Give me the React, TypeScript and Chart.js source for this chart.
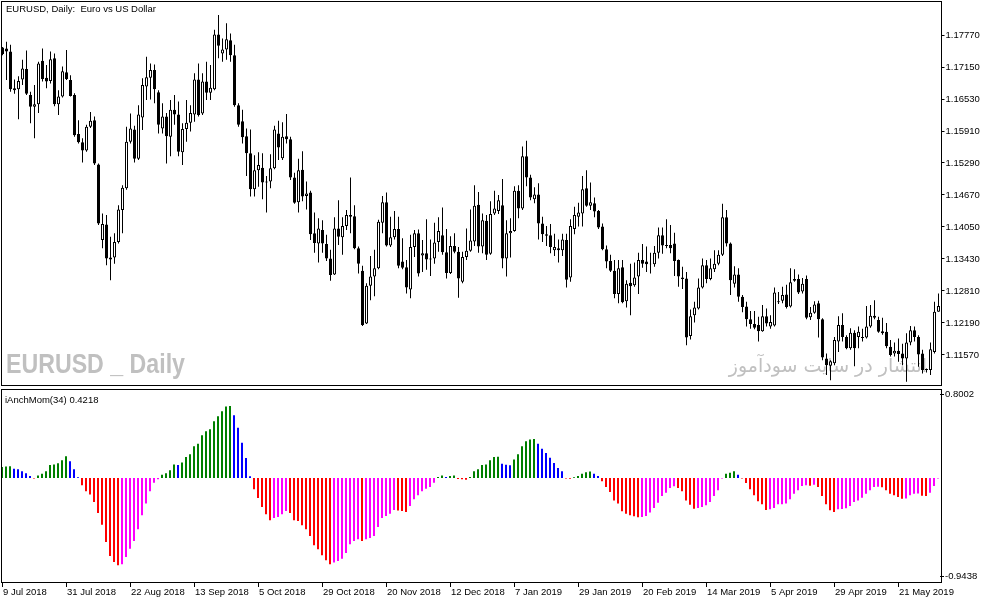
import React, { useEffect, useRef } from 'react';
import { Chart, registerables } from 'chart.js';

Chart.register(...registerables);

// ---------- data ----------
const opens = [
  1.1753,1.1751,1.1745,1.1674,1.1672,1.1691,1.1711,1.1661,1.1638,1.1643,
  1.1727,1.1694,1.1688,1.1732,1.1643,1.1658,1.1705,1.1690,1.1661,1.1585,
  1.1569,1.1553,1.1599,1.1612,1.1526,1.1380,1.1410,1.1346,1.1346,1.1376,
  1.1438,1.1480,1.1570,1.1594,1.1537,1.1617,1.1677,1.1694,1.1709,1.1666,
  1.1596,1.1619,1.1580,1.1632,1.1623,1.1550,1.1595,1.1607,1.1623,1.1691,
  1.1625,1.1687,1.1665,1.1672,1.1778,1.1741,1.1749,1.1767,1.1738,1.1641,
  1.1610,1.1581,1.1548,1.1478,1.1515,1.1520,1.1491,1.1493,1.1519,1.1586,
  1.1538,1.1581,1.1575,1.1501,1.1453,1.1516,1.1465,1.1472,1.1393,1.1373,
  1.1399,1.1372,1.1344,1.1313,1.1402,1.1385,1.1407,1.1428,1.1426,1.1364,
  1.1320,1.1218,1.1291,1.1309,1.1325,1.1413,1.1453,1.1369,1.1385,1.1401,
  1.1338,1.1327,1.1284,1.1366,1.1393,1.1350,1.1354,1.1342,1.1344,1.1376,
  1.1389,1.1356,1.1316,1.1368,1.1357,1.1299,1.1347,1.1359,1.1377,1.1448,
  1.1367,1.1417,1.1353,1.1431,1.1436,1.1447,1.1344,1.1393,1.1397,1.1475,
  1.1441,1.1542,1.1501,1.1459,1.1468,1.1412,1.1391,1.1389,1.1360,1.1364,
  1.1360,1.1380,1.1307,1.1401,1.1425,1.1431,1.1480,1.1446,1.1451,1.1436,
  1.1406,1.1362,1.1339,1.1320,1.1275,1.1327,1.1261,1.1297,1.1292,1.1309,
  1.1341,1.1338,1.1333,1.1333,1.1355,1.1389,1.1368,1.1370,1.1373,1.1341,
  1.1307,1.1305,1.1194,1.1234,1.1247,1.1288,1.1331,1.1304,1.1323,1.1334,
  1.1351,1.1424,1.1373,1.1295,1.1313,1.1270,1.1251,1.1226,1.1217,1.1215,
  1.1203,1.1232,1.1212,1.1214,1.1261,1.1262,1.1274,1.1251,1.1304,1.1304,
  1.1280,1.1304,1.1230,1.1239,1.1257,1.1226,1.1150,1.1136,1.1141,1.1183,
  1.1215,1.1192,1.1170,1.1200,1.1192,1.1192,1.1191,1.1212,1.1233,1.1225,
  1.1203,1.1202,1.1173,1.1160,1.1165,1.1160,1.1150,1.1181,1.1205,1.1192,
  1.1160,1.1128,1.1128,1.1163,1.1241,
];

const highs = [
  1.1754,1.1764,1.1758,1.1691,1.1697,1.1729,1.1747,1.1667,1.1680,1.1725,
  1.1751,1.1719,1.1745,1.1741,1.1670,1.1716,1.1748,1.1699,1.1664,1.1612,
  1.1577,1.1603,1.1628,1.1619,1.1528,1.1431,1.1428,1.1386,1.1393,1.1447,
  1.1486,1.1599,1.1625,1.1601,1.1641,1.1693,1.1735,1.1722,1.1720,1.1670,
  1.1645,1.1626,1.1651,1.1661,1.1648,1.1606,1.1651,1.1641,1.1703,1.1722,
  1.1703,1.1725,1.1719,1.1787,1.1816,1.1770,1.1800,1.1780,1.1758,1.1645,
  1.1632,1.1596,1.1594,1.1544,1.1550,1.1548,1.1504,1.1546,1.1601,1.1611,
  1.1608,1.1624,1.1580,1.1510,1.1537,1.1552,1.1493,1.1475,1.1433,1.1422,
  1.1418,1.1390,1.1361,1.1424,1.1457,1.1424,1.1438,1.1501,1.1447,1.1367,
  1.1330,1.1296,1.1349,1.1361,1.1419,1.1465,1.1472,1.1425,1.1436,1.1425,
  1.1383,1.1341,1.1390,1.1399,1.1400,1.1380,1.1420,1.1381,1.1413,1.1424,
  1.1443,1.1401,1.1387,1.1393,1.1366,1.1357,1.1402,1.1439,1.1486,1.1473,
  1.1431,1.1428,1.1455,1.1475,1.1467,1.1498,1.1418,1.1422,1.1484,1.1486,
  1.1561,1.1572,1.1506,1.1482,1.1490,1.1425,1.1407,1.1411,1.1392,1.1381,
  1.1392,1.1392,1.1420,1.1444,1.1452,1.1504,1.1515,1.1491,1.1462,1.1438,
  1.1412,1.1369,1.1351,1.1341,1.1341,1.1341,1.1302,1.1334,1.1336,1.1355,
  1.1372,1.1367,1.1355,1.1368,1.1404,1.1404,1.1420,1.1409,1.1394,1.1342,
  1.1328,1.1318,1.1245,1.1260,1.1305,1.1344,1.1341,1.1344,1.1360,1.1360,
  1.1450,1.1438,1.1375,1.1329,1.1325,1.1273,1.1260,1.1242,1.1242,1.1231,
  1.1254,1.1247,1.1234,1.1288,1.1279,1.1289,1.1293,1.1325,1.1323,1.1313,
  1.1306,1.1311,1.1250,1.1261,1.1262,1.1228,1.1160,1.1147,1.1192,1.1232,
  1.1238,1.1195,1.1209,1.1205,1.1212,1.1208,1.1252,1.1254,1.1263,1.1231,
  1.1229,1.1219,1.1186,1.1181,1.1189,1.1179,1.1199,1.1213,1.1212,1.1195,
  1.1167,1.1131,1.1181,1.1260,1.1276,
];

const lows = [
  1.1738,1.1690,1.1667,1.1663,1.1614,1.1680,1.1661,1.1606,1.1577,1.1626,
  1.1687,1.1674,1.1683,1.1639,1.1622,1.1656,1.1690,1.1658,1.1580,1.1567,
  1.1530,1.1551,1.1597,1.1525,1.1409,1.1364,1.1331,1.1302,1.1334,1.1373,
  1.1393,1.1477,1.1567,1.1530,1.1535,1.1593,1.1651,1.1652,1.1645,1.1586,
  1.1586,1.1528,1.1542,1.1603,1.1542,1.1525,1.1570,1.1590,1.1609,1.1619,
  1.1622,1.1651,1.1651,1.1670,1.1732,1.1725,1.1729,1.1725,1.1638,1.1599,
  1.1567,1.1504,1.1464,1.1464,1.1483,1.1459,1.1433,1.1480,1.1517,1.1535,
  1.1535,1.1567,1.1496,1.1450,1.1433,1.1455,1.1439,1.1380,1.1355,1.1336,
  1.1355,1.1339,1.1301,1.1312,1.1370,1.1351,1.1399,1.1393,1.1362,1.1315,
  1.1213,1.1217,1.1263,1.1271,1.1323,1.1393,1.1367,1.1366,1.1381,1.1325,
  1.1323,1.1276,1.1267,1.1347,1.1309,1.1318,1.1322,1.1310,1.1334,1.1357,
  1.1351,1.1305,1.1314,1.1354,1.1268,1.1296,1.1341,1.1357,1.1368,1.1355,
  1.1354,1.1341,1.1351,1.1428,1.1430,1.1325,1.1309,1.1346,1.1396,1.1422,
  1.1438,1.1484,1.1457,1.1451,1.1381,1.1376,1.1368,1.1354,1.1349,1.1336,
  1.1349,1.1288,1.1299,1.1391,1.1406,1.1406,1.1444,1.1438,1.1424,1.1401,
  1.1360,1.1325,1.1318,1.1267,1.1257,1.1257,1.1249,1.1234,1.1289,1.1275,
  1.1326,1.1318,1.1315,1.1328,1.1344,1.1353,1.1364,1.1354,1.1310,1.1289,
  1.1285,1.1176,1.1187,1.1220,1.1245,1.1286,1.1296,1.1302,1.1318,1.1331,
  1.1349,1.1367,1.1273,1.1288,1.1260,1.1240,1.1212,1.1208,1.1207,1.1183,
  1.1202,1.1212,1.1208,1.1212,1.1256,1.1257,1.1247,1.1249,1.1299,1.1275,
  1.1276,1.1226,1.1225,1.1237,1.1191,1.1147,1.1118,1.1108,1.1137,1.1163,
  1.1183,1.1168,1.1167,1.1135,1.1170,1.1183,1.1189,1.1210,1.1226,1.1200,
  1.1196,1.1170,1.1154,1.1154,1.1144,1.1137,1.1105,1.1176,1.1183,1.1134,
  1.1121,1.1123,1.1118,1.1160,1.1241,
];

const closes = [
  1.1740,1.1745,1.1672,1.1670,1.1688,1.1712,1.1663,1.1638,1.1643,1.1722,
  1.1692,1.1687,1.1730,1.1643,1.1658,1.1707,1.1692,1.1659,1.1583,1.1569,
  1.1553,1.1599,1.1611,1.1528,1.1412,1.1411,1.1344,1.1342,1.1376,1.1439,
  1.1481,1.1570,1.1596,1.1537,1.1623,1.1680,1.1695,1.1709,1.1672,1.1603,
  1.1619,1.1581,1.1632,1.1623,1.1551,1.1595,1.1607,1.1626,1.1691,1.1622,
  1.1687,1.1665,1.1675,1.1778,1.1756,1.1749,1.1769,1.1738,1.1641,1.1603,
  1.1579,1.1548,1.1478,1.1515,1.1525,1.1491,1.1493,1.1519,1.1594,1.1559,
  1.1580,1.1575,1.1501,1.1452,1.1515,1.1464,1.1470,1.1391,1.1374,1.1402,
  1.1373,1.1344,1.1312,1.1402,1.1386,1.1407,1.1428,1.1425,1.1364,1.1334,
  1.1215,1.1291,1.1309,1.1325,1.1415,1.1453,1.1369,1.1385,1.1401,1.1330,
  1.1326,1.1288,1.1366,1.1393,1.1315,1.1354,1.1342,1.1344,1.1375,1.1397,
  1.1356,1.1316,1.1368,1.1357,1.1305,1.1347,1.1359,1.1379,1.1446,1.1367,
  1.1418,1.1351,1.1430,1.1441,1.1457,1.1344,1.1393,1.1397,1.1475,1.1441,
  1.1542,1.1501,1.1462,1.1468,1.1412,1.1391,1.1388,1.1366,1.1366,1.1360,
  1.1381,1.1303,1.1407,1.1428,1.1433,1.1478,1.1446,1.1453,1.1435,1.1404,
  1.1362,1.1338,1.1320,1.1275,1.1325,1.1259,1.1295,1.1290,1.1307,1.1341,
  1.1334,1.1333,1.1334,1.1355,1.1389,1.1369,1.1370,1.1364,1.1339,1.1309,
  1.1304,1.1191,1.1232,1.1249,1.1288,1.1331,1.1304,1.1325,1.1334,1.1351,
  1.1424,1.1373,1.1302,1.1313,1.1270,1.1250,1.1226,1.1217,1.1210,1.1203,
  1.1232,1.1218,1.1221,1.1278,1.1259,1.1273,1.1250,1.1298,1.1301,1.1278,
  1.1295,1.1229,1.1239,1.1255,1.1226,1.1152,1.1137,1.1145,1.1186,1.1215,
  1.1192,1.1170,1.1200,1.1170,1.1202,1.1190,1.1212,1.1233,1.1229,1.1202,
  1.1199,1.1174,1.1157,1.1165,1.1159,1.1150,1.1181,1.1205,1.1192,1.1158,
  1.1128,1.1130,1.1168,1.1241,1.1252,
];

const momentum = [
  0.105,0.110,0.112,0.089,0.083,0.064,0.045,0.019,-0.006,0.025,
  0.041,0.064,0.124,0.129,0.140,0.169,0.207,0.159,0.083,0.006,
  -0.070,-0.127,-0.159,-0.229,-0.335,-0.446,-0.612,-0.746,-0.803,-0.835,
  -0.825,-0.755,-0.676,-0.602,-0.491,-0.357,-0.245,-0.127,-0.045,-0.013,
  0.032,0.045,0.073,0.129,0.125,0.147,0.201,0.226,0.303,0.328,
  0.408,0.446,0.465,0.542,0.590,0.637,0.683,0.688,0.599,0.481,
  0.338,0.191,0.016,-0.108,-0.191,-0.277,-0.347,-0.405,-0.382,-0.373,
  -0.347,-0.315,-0.335,-0.405,-0.411,-0.453,-0.491,-0.554,-0.644,-0.682,
  -0.739,-0.787,-0.825,-0.809,-0.793,-0.771,-0.717,-0.634,-0.602,-0.586,
  -0.602,-0.586,-0.574,-0.554,-0.468,-0.382,-0.363,-0.341,-0.305,-0.310,
  -0.315,-0.325,-0.268,-0.204,-0.166,-0.127,-0.102,-0.086,-0.045,0.010,
  0.025,0.010,0.019,0.025,-0.010,-0.011,-0.016,0.010,0.064,0.083,
  0.125,0.130,0.169,0.200,0.203,0.137,0.127,0.121,0.178,0.226,
  0.303,0.351,0.369,0.372,0.328,0.280,0.239,0.194,0.143,0.096,
  0.064,-0.006,-0.007,0.006,0.019,0.041,0.056,0.062,0.041,0.019,
  -0.032,-0.086,-0.134,-0.214,-0.245,-0.319,-0.341,-0.357,-0.365,-0.375,
  -0.373,-0.363,-0.331,-0.287,-0.236,-0.172,-0.140,-0.096,-0.080,-0.096,
  -0.127,-0.214,-0.255,-0.293,-0.287,-0.277,-0.261,-0.229,-0.172,-0.118,
  -0.006,0.041,0.051,0.064,0.032,-0.006,-0.048,-0.108,-0.166,-0.223,
  -0.252,-0.305,-0.300,-0.287,-0.252,-0.250,-0.245,-0.204,-0.150,-0.118,
  -0.076,-0.070,-0.075,-0.064,-0.086,-0.172,-0.252,-0.309,-0.325,-0.300,
  -0.296,-0.290,-0.268,-0.229,-0.214,-0.188,-0.150,-0.118,-0.086,-0.084,
  -0.088,-0.118,-0.150,-0.166,-0.182,-0.198,-0.195,-0.166,-0.150,-0.148,
  -0.170,-0.172,-0.140,-0.076,-0.006,
];

const dateTickLabels = [
  '9 Jul 2018', '31 Jul 2018', '22 Aug 2018', '13 Sep 2018', '5 Oct 2018',
  '29 Oct 2018', '20 Nov 2018', '12 Dec 2018', '7 Jan 2019', '29 Jan 2019',
  '20 Feb 2019', '14 Mar 2019', '5 Apr 2019', '29 Apr 2019', '21 May 2019',
];
const LABEL_EVERY = 16;

const priceTicks = [1.1157, 1.1219, 1.1281, 1.1343, 1.1405, 1.1467, 1.1529, 1.1591, 1.1653, 1.1715, 1.1777];
const PRICE_MIN = 1.10969;
const PRICE_MAX = 1.18429;

const momentumTicks = [-0.9438, 0.8002];
const MOM_MIN = -1.004;
const MOM_MAX = 0.8509;

const TITLE = 'EURUSD, Daily:  Euro vs US Dollar';
const WATERMARK = 'EURUSD _ Daily';
const SITE_MARK = 'انتشار در سایت سودآموز';
const INDICATOR_LABEL = 'iAnchMom(34) 0.4218';

// ---------- styling ----------
const FONT_FAMILY = '"Liberation Sans", Arial, sans-serif';
const FONT_SIZE = 9.5;
const GREEN = '#008000';
const BLUE = '#0000ff';
const RED = '#ff0000';
const MAGENTA = '#ff00ff';

function momentumColor(i: number): string {
  const v = momentum[i];
  const prev = i > 0 ? momentum[i - 1] : v;
  if (v >= 0) return v >= prev ? GREEN : BLUE;
  return v < prev ? RED : MAGENTA;
}

function framePlugin(top: number, bottom: number) {
  return {
    id: 'mtFrame',
    afterDraw(chart: any) {
      const ctx = chart.ctx;
      ctx.save();
      ctx.fillStyle = '#000';
      ctx.fillRect(1, top, 1, bottom - top + 1);
      ctx.fillRect(941, top, 1, bottom - top + 1);
      ctx.fillRect(1, top, 941, 1);
      ctx.fillRect(1, bottom, 941, 1);
      ctx.restore();
    },
  };
}

const mainTextPlugin = {
  id: 'mainText',
  beforeDatasetsDraw(chart: any) {
    const ctx = chart.ctx;
    ctx.save();
    ctx.fillStyle = '#c0c0c0';
    ctx.textBaseline = 'alphabetic';
    ctx.textAlign = 'left';
    ctx.font = 'bold 28px "Liberation Sans Narrow", "Liberation Sans", sans-serif';
    ctx.fillText(WATERMARK, 6, 373, 179);
    ctx.fillStyle = '#c0c0c0';
    ctx.textAlign = 'right';
    ctx.font = '19px "DejaVu Sans", sans-serif';
    ctx.fillText(SITE_MARK, 927, 372);
    ctx.restore();
  },
  afterDraw(chart: any) {
    const ctx = chart.ctx;
    ctx.save();
    ctx.fillStyle = '#000';
    ctx.textBaseline = 'alphabetic';
    ctx.textAlign = 'left';
    ctx.font = `${FONT_SIZE}px ${FONT_FAMILY}`;
    ctx.fillText(TITLE, 6, 12);
    ctx.restore();
  },
};

const lowerTextPlugin = {
  id: 'lowerText',
  afterDraw(chart: any) {
    const ctx = chart.ctx;
    ctx.save();
    ctx.fillStyle = '#000';
    ctx.textBaseline = 'alphabetic';
    ctx.textAlign = 'left';
    ctx.font = `${FONT_SIZE}px ${FONT_FAMILY}`;
    ctx.fillText(INDICATOR_LABEL, 5, 16);
    ctx.restore();
  },
};

export default function App() {
  const mainRef = useRef<HTMLCanvasElement>(null);
  const lowerRef = useRef<HTMLCanvasElement>(null);

  useEffect(() => {
    if (!mainRef.current || !lowerRef.current) return;
    Chart.defaults.font.family = FONT_FAMILY;
    Chart.defaults.font.size = FONT_SIZE;
    Chart.defaults.color = '#000';

    const labels = closes.map((_, i) => String(i));
    const bodyColors = closes.map((c, i) => (c >= opens[i] ? '#ffffff' : '#000000'));
    const momColors = momentum.map((_, i) => momentumColor(i));

    const main = new Chart(mainRef.current, {
      type: 'bar',
      data: {
        labels,
        datasets: [
          {
            label: 'body',
            data: opens.map((o, i) => [o, closes[i]]) as any,
            backgroundColor: bodyColors,
            borderColor: '#000000',
            borderWidth: 1,
            borderSkipped: false,
            barThickness: 3,
            grouped: false,
            order: 0,
            inflateAmount: 0,
          } as any,
          {
            label: 'wick',
            data: lows.map((l, i) => [l, highs[i]]) as any,
            backgroundColor: '#000000',
            borderWidth: 0,
            barThickness: 1,
            grouped: false,
            order: 1,
            inflateAmount: 0,
          } as any,
        ],
      },
      options: {
        animation: false,
        responsive: false,
        maintainAspectRatio: false,
        events: [],
        layout: { padding: { left: 0.5, top: 1, right: 0, bottom: 1 } },
        plugins: { legend: { display: false }, tooltip: { enabled: false } },
        scales: {
          x: { display: false, offset: true },
          y: {
            position: 'right',
            min: PRICE_MIN,
            max: PRICE_MAX,
            afterBuildTicks: (s: any) => {
              s.ticks = priceTicks.map((v) => ({ value: v }));
            },
            afterFit: (s: any) => {
              s.width = 53.5;
              s.paddingTop = 0;
              s.paddingBottom = 0;
            },
            ticks: {
              padding: 1,
              color: '#000',
              callback: (v: any) => Number(v).toFixed(5),
            },
            grid: { drawOnChartArea: false, drawTicks: true, tickLength: 4, color: '#000' },
            border: { display: false },
          },
        },
      } as any,
      plugins: [mainTextPlugin, framePlugin(1, 385)],
    });

    const lower = new Chart(lowerRef.current, {
      type: 'bar',
      data: {
        labels,
        datasets: [
          {
            label: 'mom',
            data: momentum,
            backgroundColor: momColors,
            borderWidth: 0,
            barThickness: 2,
            inflateAmount: 0,
          } as any,
        ],
      },
      options: {
        animation: false,
        responsive: false,
        maintainAspectRatio: false,
        events: [],
        layout: { padding: { left: 0, top: 2, right: 0, bottom: 0 } },
        plugins: { legend: { display: false }, tooltip: { enabled: false } },
        scales: {
          x: {
            offset: true,
            afterFit: (s: any) => {
              s.height = 20;
              s.paddingLeft = 0;
              s.paddingRight = 0;
            },
            grid: {
              offset: false,
              drawOnChartArea: false,
              drawTicks: true,
              tickLength: 4,
              color: (ctx: any) => (ctx.index % LABEL_EVERY === 0 ? '#000' : 'rgba(0,0,0,0)'),
            },
            border: { display: false },
            ticks: {
              autoSkip: false,
              maxRotation: 0,
              minRotation: 0,
              align: 'start',
              padding: 0,
              labelOffset: 1,
              color: '#000',
              callback: (_v: any, i: number) =>
                i % LABEL_EVERY === 0 ? dateTickLabels[i / LABEL_EVERY] ?? '' : '',
            },
          },
          y: {
            position: 'right',
            min: MOM_MIN,
            max: MOM_MAX,
            afterBuildTicks: (s: any) => {
              s.ticks = momentumTicks.map((v) => ({ value: v }));
            },
            afterFit: (s: any) => {
              s.width = 54;
              s.paddingTop = 0;
              s.paddingBottom = 0;
            },
            ticks: {
              padding: 1,
              color: '#000',
              callback: (v: any) => Number(v).toFixed(4),
            },
            grid: { drawOnChartArea: false, drawTicks: true, tickLength: 4, color: '#000' },
            border: { display: false },
          },
        },
      } as any,
      plugins: [lowerTextPlugin, framePlugin(2, 195)],
    });

    return () => {
      main.destroy();
      lower.destroy();
    };
  }, []);

  return (
    <div style={{ position: 'absolute', left: 0, top: 0, width: 994, height: 603, background: '#ffffff' }}>
      <canvas
        ref={mainRef}
        width={994}
        height={387}
        style={{ position: 'absolute', left: 0, top: 0, width: 994, height: 387, display: 'block' }}
      />
      <canvas
        ref={lowerRef}
        width={994}
        height={216}
        style={{ position: 'absolute', left: 0, top: 387, width: 994, height: 216, display: 'block' }}
      />
    </div>
  );
}
